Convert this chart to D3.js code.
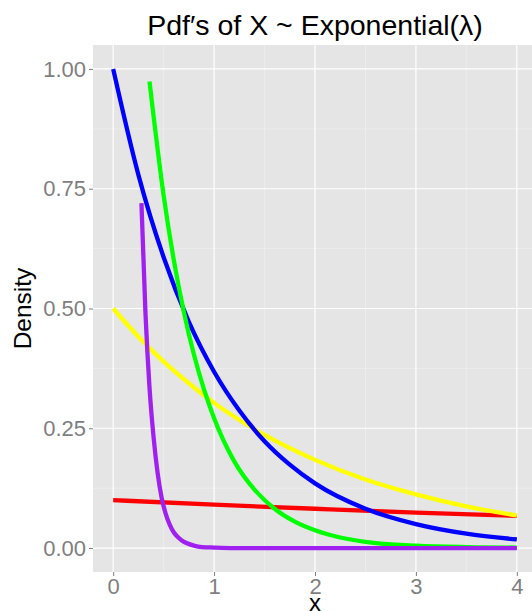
<!DOCTYPE html>
<html>
<head>
<meta charset="utf-8">
<script src="https://cdn.jsdelivr.net/npm/d3@7"></script>
<style>
  body { margin: 0; background: #fff; }
  svg { display: block; font-family: "Liberation Sans", Arial, sans-serif; }
  .tick text { fill: #7f7f7f; font-size: 22px; }
  .tick line { stroke: #7f7f7f; }
</style>
</head>
<body>
<svg width="532" height="611"></svg>
<script>
// values, one pair of arrays per curve
const redX = [0, 1, 2, 3, 4];
const redY = [0.100, 0.0905, 0.082, 0.074, 0.067];

const yellowX = [0, 0.25, 0.5, 0.75, 1, 1.5, 2, 2.5, 3, 3.5, 4];
const yellowY = [0.500, 0.441, 0.389, 0.344, 0.303, 0.236, 0.184, 0.143, 0.112, 0.087, 0.068];

const blueX = [0, 0.25, 0.5, 0.75, 1, 1.25, 1.5, 1.75, 2, 2.5, 3, 3.5, 4];
const blueY = [1.000, 0.779, 0.607, 0.472, 0.368, 0.287, 0.223, 0.174, 0.135, 0.082, 0.050, 0.030, 0.018];

const greenX = [0.36, 0.5, 0.6, 0.7, 0.8, 0.9, 1.0, 1.2, 1.4, 1.6, 1.8, 2.0, 2.25, 2.5, 3, 3.5, 4];
const greenY = [0.974, 0.736, 0.602, 0.493, 0.404, 0.331, 0.271, 0.181, 0.122, 0.082, 0.055, 0.037, 0.022, 0.013, 0.005, 0.002, 0.001];

const purpleX = [0.28, 0.32, 0.36, 0.40, 0.44, 0.48, 0.52, 0.56, 0.60, 0.64, 0.68, 0.72, 0.80, 0.88, 1.0, 1.2, 2, 3, 4];
const purpleY = [0.720, 0.490, 0.335, 0.232, 0.157, 0.105, 0.072, 0.049, 0.033, 0.023, 0.016, 0.011, 0.005, 0.002, 0.001, 0, 0, 0, 0];

const xTicks = [0, 1, 2, 3, 4];
const yTicks = [0, 0.25, 0.5, 0.75, 1];
const xMinor = [0.5, 1.5, 2.5, 3.5];
const yMinor = [0.125, 0.375, 0.625, 0.875];

const series = [
  { xs: redX, ys: redY, color: "#ff0000" },
  { xs: yellowX, ys: yellowY, color: "#ffff00" },
  { xs: blueX, ys: blueY, color: "#0000ff" },
  { xs: greenX, ys: greenY, color: "#00ff00" },
  { xs: purpleX, ys: purpleY, color: "#a020f0" }
];

const svg = d3.select("svg");
const panel = { left: 93, right: 537, top: 45, bottom: 572 };

const x = d3.scaleLinear().domain([-0.2, 4.2]).range([panel.left, panel.right]);
const y = d3.scaleLinear().domain([-0.05, 1.05]).range([panel.bottom, panel.top]);

svg.append("rect")
  .attr("x", panel.left).attr("y", panel.top)
  .attr("width", panel.right - panel.left).attr("height", panel.bottom - panel.top)
  .attr("fill", "#e5e5e5");

const grid = svg.append("g");
grid.selectAll(".vminor").data(xMinor).enter().append("line")
  .attr("x1", d => x(d)).attr("x2", d => x(d))
  .attr("y1", panel.top).attr("y2", panel.bottom)
  .attr("stroke", "#f2f2f2").attr("stroke-width", 0.6);
grid.selectAll(".hminor").data(yMinor).enter().append("line")
  .attr("y1", d => y(d)).attr("y2", d => y(d))
  .attr("x1", panel.left).attr("x2", panel.right)
  .attr("stroke", "#f2f2f2").attr("stroke-width", 0.6);
grid.selectAll(".vmajor").data(xTicks).enter().append("line")
  .attr("x1", d => x(d)).attr("x2", d => x(d))
  .attr("y1", panel.top).attr("y2", panel.bottom)
  .attr("stroke", "#ffffff").attr("stroke-width", 1.2);
grid.selectAll(".hmajor").data(yTicks).enter().append("line")
  .attr("y1", d => y(d)).attr("y2", d => y(d))
  .attr("x1", panel.left).attr("x2", panel.right)
  .attr("stroke", "#ffffff").attr("stroke-width", 1.2);

const line = d3.line()
  .x(d => x(d[0]))
  .y(d => y(d[1]))
  .curve(d3.curveMonotoneX);

series.forEach(s => {
  const pts = s.xs.map((v, i) => [v, s.ys[i]]);
  svg.append("path")
    .datum(pts)
    .attr("d", line)
    .attr("fill", "none")
    .attr("stroke", s.color)
    .attr("stroke-width", 4.3)
    .attr("stroke-linejoin", "round");
});

const xAxis = svg.append("g")
  .attr("transform", `translate(0,${panel.bottom})`)
  .call(d3.axisBottom(x).tickValues(xTicks).tickFormat(d3.format("d")).tickSize(4).tickPadding(2));
xAxis.select(".domain").remove();

const yAxis = svg.append("g")
  .attr("transform", `translate(${panel.left},0)`)
  .call(d3.axisLeft(y).tickValues(yTicks).tickFormat(d3.format(".2f")).tickSize(4).tickPadding(3));
yAxis.select(".domain").remove();

svg.selectAll(".tick text").style("font-family", "'Liberation Sans', Arial, sans-serif");

svg.append("text")
  .attr("x", x(2)).attr("y", 35)
  .attr("text-anchor", "middle")
  .attr("font-size", 28.5)
  .attr("fill", "#000")
  .text("Pdf′s of X ~ Exponential(λ)");

svg.append("text")
  .attr("x", x(2)).attr("y", 611)
  .attr("text-anchor", "middle")
  .attr("font-size", 24)
  .attr("fill", "#000")
  .text("x");

svg.append("text")
  .attr("transform", `translate(31,${(panel.top + panel.bottom) / 2}) rotate(-90)`)
  .attr("text-anchor", "middle")
  .attr("font-size", 24.5)
  .attr("fill", "#000")
  .text("Density");
</script>
</body>
</html>
